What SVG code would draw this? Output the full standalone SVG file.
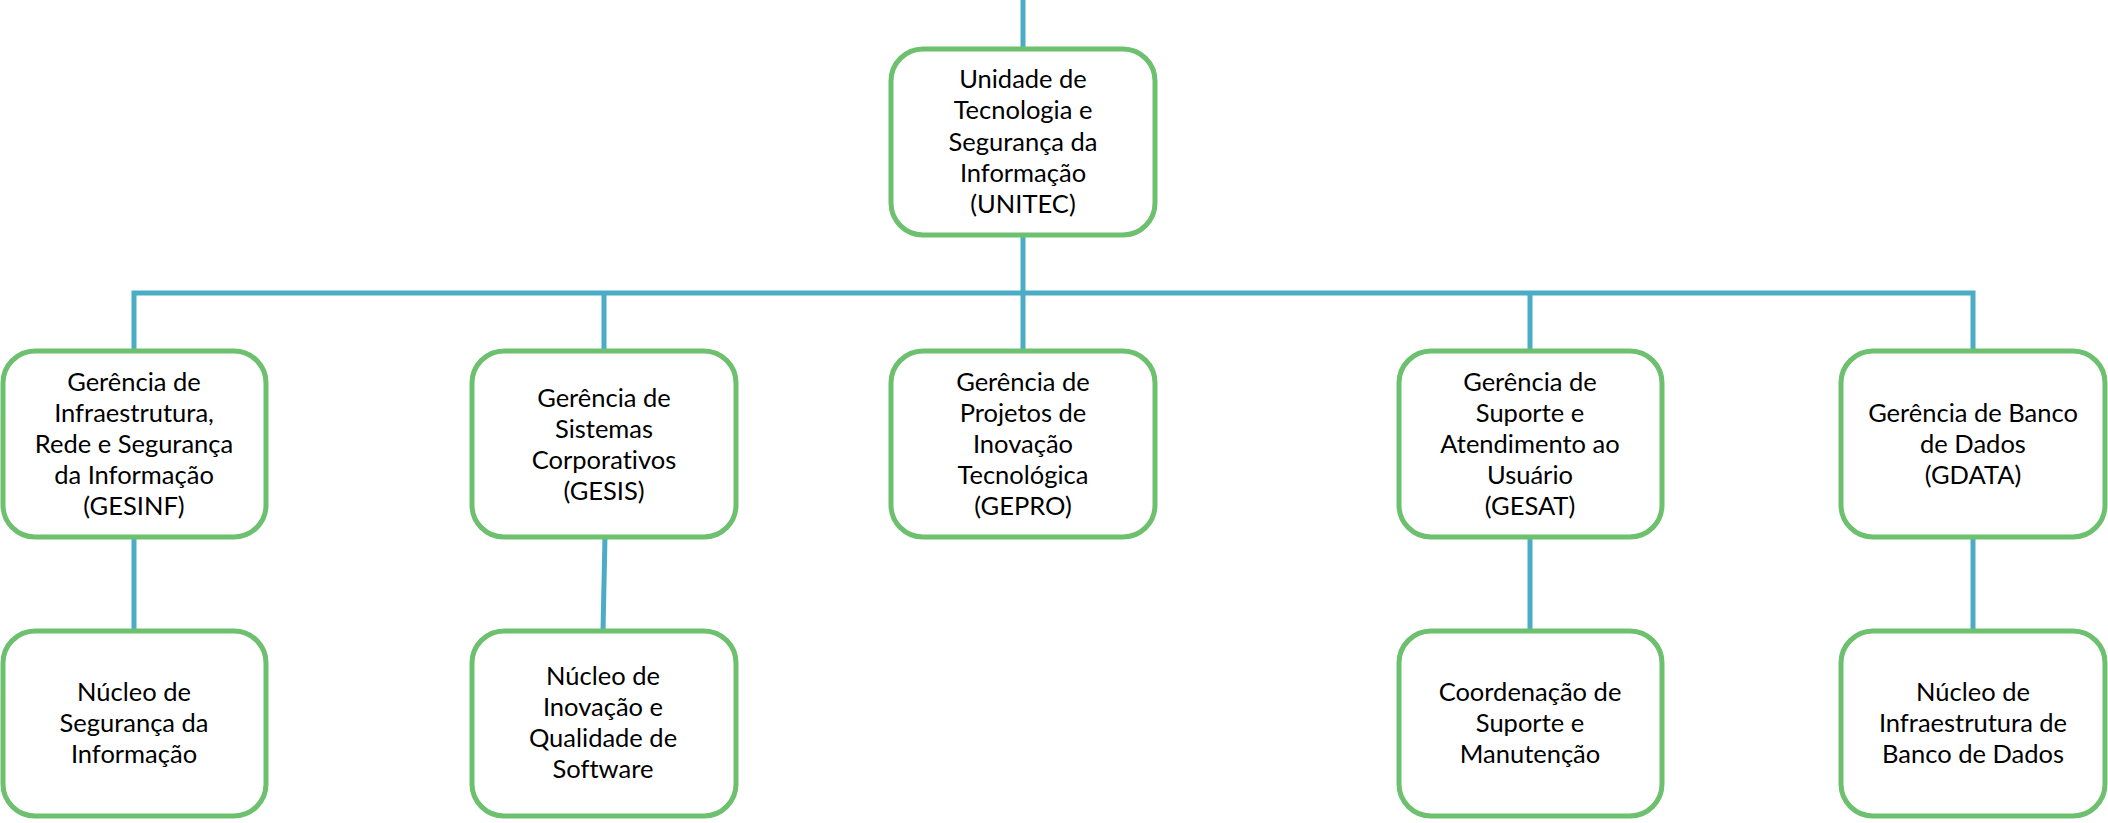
<svg xmlns="http://www.w3.org/2000/svg" width="2108" height="823" viewBox="0 0 2108 823">
<style>
.box{fill:#ffffff;stroke:#6cc06e;stroke-width:5}
.ln{stroke:#4bacc6;stroke-width:5;fill:none}
text{font-family:Lato,"Open Sans",sans-serif;font-size:25.5px;fill:#000;text-anchor:middle;font-variant-ligatures:none;font-feature-settings:"liga" 0}
</style>
<rect width="2108" height="823" fill="#ffffff"/>
<g id="connectors">
<line class="ln" x1="1023" y1="0" x2="1023" y2="49"/>
<line class="ln" x1="1023" y1="235" x2="1023" y2="352"/>
<polyline class="ln" points="134,352 134,293 1973,293 1973,352"/>
<line class="ln" x1="604" y1="293" x2="604" y2="352"/>
<line class="ln" x1="1530" y1="293" x2="1530" y2="352"/>
<line class="ln" x1="134" y1="536" x2="134" y2="631"/>
<line class="ln" x1="605" y1="536" x2="603" y2="631"/>
<line class="ln" x1="1530" y1="536" x2="1530" y2="631"/>
<line class="ln" x1="1973" y1="536" x2="1973" y2="631"/>
</g>
<g id="unitec">
<rect class="box" x="891" y="49" width="264" height="186" rx="32"/>
<text x="1023" y="88">Unidade de</text>
<text x="1023" y="119">Tecnologia e</text>
<text x="1023" y="151">Segurança da</text>
<text x="1023" y="182">Informação</text>
<text x="1023" y="213">(UNITEC)</text>
</g>
<g id="gesinf">
<rect class="box" x="3" y="351" width="263" height="186" rx="32"/>
<text x="134" y="391">Gerência de</text>
<text x="134" y="422">Infraestrutura,</text>
<text x="134" y="453">Rede e Segurança</text>
<text x="134" y="484">da Informação</text>
<text x="134" y="515">(GESINF)</text>
</g>
<g id="gesis">
<rect class="box" x="472" y="351" width="264" height="186" rx="32"/>
<text x="604" y="407">Gerência de</text>
<text x="604" y="438">Sistemas</text>
<text x="604" y="469">Corporativos</text>
<text x="604" y="500">(GESIS)</text>
</g>
<g id="gepro">
<rect class="box" x="891" y="351" width="264" height="186" rx="32"/>
<text x="1023" y="391">Gerência de</text>
<text x="1023" y="422">Projetos de</text>
<text x="1023" y="453">Inovação</text>
<text x="1023" y="484">Tecnológica</text>
<text x="1023" y="515">(GEPRO)</text>
</g>
<g id="gesat">
<rect class="box" x="1399" y="351" width="263" height="186" rx="32"/>
<text x="1530" y="391">Gerência de</text>
<text x="1530" y="422">Suporte e</text>
<text x="1530" y="453">Atendimento ao</text>
<text x="1530" y="484">Usuário</text>
<text x="1530" y="515">(GESAT)</text>
</g>
<g id="gdata">
<rect class="box" x="1841" y="351" width="264" height="186" rx="32"/>
<text x="1973" y="422">Gerência de Banco</text>
<text x="1973" y="453">de Dados</text>
<text x="1973" y="484">(GDATA)</text>
</g>
<g id="nucleo-seguranca">
<rect class="box" x="3" y="631" width="263" height="185" rx="32"/>
<text x="134" y="701">Núcleo de</text>
<text x="134" y="732">Segurança da</text>
<text x="134" y="763">Informação</text>
</g>
<g id="nucleo-inovacao">
<rect class="box" x="472" y="631" width="264" height="185" rx="32"/>
<text x="603" y="685">Núcleo de</text>
<text x="603" y="716">Inovação e</text>
<text x="603" y="747">Qualidade de</text>
<text x="603" y="778">Software</text>
</g>
<g id="coordenacao-suporte">
<rect class="box" x="1399" y="631" width="263" height="185" rx="32"/>
<text x="1530" y="701">Coordenação de</text>
<text x="1530" y="732">Suporte e</text>
<text x="1530" y="763">Manutenção</text>
</g>
<g id="nucleo-infra-bd">
<rect class="box" x="1841" y="631" width="264" height="185" rx="32"/>
<text x="1973" y="701">Núcleo de</text>
<text x="1973" y="732">Infraestrutura de</text>
<text x="1973" y="763">Banco de Dados</text>
</g>
</svg>
